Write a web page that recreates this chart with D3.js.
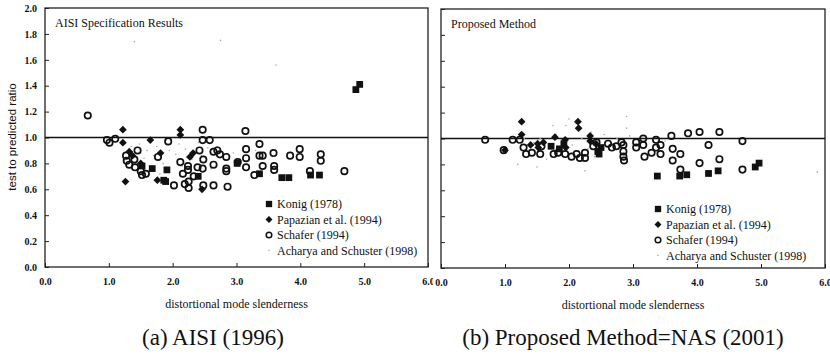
<!DOCTYPE html>
<html>
<head>
<meta charset="utf-8">
<script src="https://cdn.jsdelivr.net/npm/d3@7"></script>
<style>
  body { margin: 0; background: #fff; }
  svg { display: block; }
</style>
</head>
<body>
<svg id="chart" width="830" height="356"></svg>
<script>
// tick values / labels
const xTickValues = [0, 1, 2, 3, 4, 5, 6];
const yTickValues = [0, 0.2, 0.4, 0.6, 0.8, 1.0, 1.2, 1.4, 1.6, 1.8, 2.0];
const seriesNames = ["Konig (1978)", "Papazian et al. (1994)", "Schafer (1994)", "Acharya and Schuster (1998)"];

// (a) AISI (1996) -- [slenderness, test/predicted]
const aisiKonig = [[1.52,0.78],[1.68,0.76],[1.91,0.75],[1.89,0.66],[1.86,0.67],[2.40,0.70],[3.01,0.80],
  [3.36,0.72],[3.71,0.69],[3.82,0.69],[4.16,0.71],[4.30,0.71],[4.87,1.37],[4.93,1.41]];
const aisiPapazian = [[1.22,1.06],[1.22,0.96],[1.26,0.66],[1.32,0.89],[1.37,0.86],[1.50,0.80],[1.65,0.98],
  [1.81,0.88],[1.76,0.67],[2.12,1.06],[2.12,1.02],[2.27,0.85],[2.32,0.88],[2.46,0.60]];
const aisiSchafer = [[0.67,1.17],[0.97,0.98],[1.01,0.96],[1.10,0.99],[1.27,0.86],[1.28,0.82],[1.32,0.79],
  [1.40,0.83],[1.41,0.77],[1.45,0.90],[1.50,0.74],[1.52,0.71],[1.58,0.72],[1.77,0.85],[1.93,0.97],
  [2.02,0.63],[2.12,0.81],[2.16,0.72],[2.19,0.64],[2.24,0.78],[2.24,0.75],[2.25,0.66],[2.25,0.61],
  [2.33,0.70],[2.39,0.77],[2.42,0.90],[2.47,1.06],[2.47,0.98],[2.48,0.83],[2.47,0.76],[2.48,0.63],
  [2.58,0.98],[2.64,0.89],[2.64,0.79],[2.64,0.63],[2.70,0.90],[2.74,0.87],[2.84,0.85],[2.84,0.76],
  [2.84,0.74],[2.86,0.62],[3.02,0.81],[3.14,1.05],[3.15,0.91],[3.15,0.84],[3.15,0.77],[3.28,0.71],
  [3.36,0.95],[3.36,0.86],[3.41,0.86],[3.41,0.78],[3.58,0.88],[3.59,0.78],[3.59,0.75],[3.84,0.86],
  [3.99,0.91],[3.99,0.85],[4.15,0.74],[4.32,0.87],[4.32,0.82],[4.69,0.74]];
const aisiAcharya = [[1.35,0.93],[1.42,0.88],[1.48,0.95],[1.55,0.84],[1.60,0.90],[1.70,0.86],[1.75,0.93],
  [1.85,0.80],[1.95,0.90],[2.05,0.87],[2.10,0.95],[2.20,0.91],[2.30,0.83],[2.45,0.86],[2.55,0.92],
  [2.70,0.93],[2.85,0.87],[2.95,0.88],[1.65,0.75],[1.80,0.72],[2.15,0.78],[1.40,1.74],[2.75,1.75],
  [3.62,1.56],[3.30,0.90],[1.25,0.82],[1.50,0.88],[2.40,0.96],[1.90,0.98],[2.60,0.76]];

// (b) Proposed Method = NAS (2001)
const nasKonig = [[1.72,0.94],[1.85,0.92],[1.92,0.96],[2.45,0.90],[2.47,0.88],[2.50,0.93],[3.38,0.71],
  [3.73,0.71],[3.84,0.72],[4.18,0.73],[4.33,0.75],[4.91,0.78],[4.97,0.81]];
const nasPapazian = [[1.26,1.13],[1.26,1.03],[2.14,1.13],[2.15,1.08],[2.33,1.02],[2.33,0.98],[1.51,0.96],
  [1.78,1.01],[1.94,0.99],[1.00,0.91],[1.52,0.93],[1.40,0.95],[1.60,0.97],[1.95,0.93],[2.42,0.96]];
const nasSchafer = [[0.69,0.99],[0.98,0.91],[1.12,0.99],[1.23,0.99],[1.29,0.93],[1.33,0.88],[1.42,0.89],
  [1.55,0.88],[1.57,0.94],[1.76,0.88],[1.83,0.89],[1.94,0.88],[2.04,0.86],[2.12,0.88],[2.17,0.85],
  [2.25,0.85],[2.25,0.89],[2.38,0.94],[2.43,0.97],[2.61,0.96],[2.67,0.93],[2.74,0.94],[2.82,0.97],
  [2.85,0.95],[2.85,0.90],[2.85,0.86],[2.86,0.83],[3.05,0.97],[3.05,0.93],[3.16,1.00],[3.16,0.95],
  [3.18,0.86],[3.29,0.89],[3.36,0.99],[3.36,0.93],[3.43,0.95],[3.43,0.88],[3.60,1.02],[3.62,0.92],
  [3.62,0.83],[3.74,0.88],[3.74,0.76],[3.86,1.04],[4.04,1.05],[4.04,0.81],[4.18,0.95],[4.35,1.05],
  [4.35,0.84],[4.71,0.76],[4.71,0.98]];
const nasAcharya = [[1.30,1.00],[1.35,0.90],[1.45,0.97],[1.55,1.00],[1.60,0.92],[1.70,0.96],[1.80,1.03],
  [1.85,0.90],[1.95,1.10],[2.00,1.15],[2.05,0.95],[2.10,1.12],[2.20,1.00],[2.30,0.92],[2.35,1.05],
  [2.45,0.98],[2.60,0.94],[2.75,1.00],[2.90,1.17],[2.90,1.08],[2.95,1.02],[1.20,0.80],[2.25,0.75],
  [1.65,0.84],[2.40,0.86],[1.75,1.10],[3.50,0.98],[5.88,0.74],[1.50,0.78],[2.55,1.03]];

const svg = d3.select("#chart");
const serif = "'Liberation Serif', 'Times New Roman', serif";

// clip so that the neighbouring panels cut each other's edge labels like the scan
const defs = svg.append("defs");
defs.append("clipPath").attr("id", "clipA").append("rect").attr("x", 0).attr("y", 0).attr("width", 433).attr("height", 356);
defs.append("clipPath").attr("id", "clipB").append("rect").attr("x", 435).attr("y", 0).attr("width", 395).attr("height", 356);

// diamond = square turned 45 degrees
const diamondPath = s => d3.symbol(d3.symbolSquare, s)();

function drawPanel(p) {
  const g = svg.append("g").attr("clip-path", `url(#${p.clip})`);
  const x = d3.scaleLinear().domain([0, 6]).range([p.left, p.right]);
  const y = d3.scaleLinear().domain([0, 2]).range([p.bottom, p.top]);

  // axes (ticks pointing inward)
  const ax = g.append("g").attr("transform", `translate(0,${p.bottom})`)
    .call(d3.axisBottom(x).tickValues(xTickValues).tickSizeInner(-4).tickSizeOuter(0)
      .tickPadding(11).tickFormat(d3.format(".1f")));
  const ay = g.append("g").attr("transform", `translate(${p.left},0)`)
    .call(d3.axisLeft(y).tickValues(yTickValues).tickSizeInner(-4).tickSizeOuter(0)
      .tickPadding(8).tickFormat(p.yLabels ? d3.format(".1f") : ""));
  [ax, ay].forEach(a => {
    a.select(".domain").remove();
    a.selectAll("line").attr("stroke", "#222").attr("stroke-width", 1);
    a.selectAll("text").attr("font-family", serif).attr("font-weight", "bold")
      .attr("font-size", 10).attr("fill", "#111");
  });

  // frame
  g.append("rect").attr("x", p.left).attr("y", p.top)
    .attr("width", p.right - p.left).attr("height", p.bottom - p.top)
    .attr("fill", "none").attr("stroke", "#222").attr("stroke-width", 1.3);

  // reference line at ratio 1.0
  g.append("line").attr("x1", p.left).attr("x2", p.right)
    .attr("y1", y(1)).attr("y2", y(1)).attr("stroke", "#111").attr("stroke-width", 1.4);

  // data
  const pts = g.append("g");
  pts.selectAll(".ach").data(p.acharya).join("circle").attr("class", "ach")
    .attr("cx", d => x(d[0])).attr("cy", d => y(d[1])).attr("r", 0.8).attr("fill", "#aaa");
  pts.selectAll(".sch").data(p.schafer).join("circle").attr("class", "sch")
    .attr("cx", d => x(d[0])).attr("cy", d => y(d[1])).attr("r", 3.2)
    .attr("fill", "none").attr("stroke", "#111").attr("stroke-width", 1.7);
  pts.selectAll(".pap").data(p.papazian).join("path").attr("class", "pap")
    .attr("transform", d => `translate(${x(d[0])},${y(d[1])}) rotate(45)`)
    .attr("d", diamondPath(30)).attr("fill", "#111");
  pts.selectAll(".kon").data(p.konig).join("path").attr("class", "kon")
    .attr("transform", d => `translate(${x(d[0])},${y(d[1])})`)
    .attr("d", d3.symbol(d3.symbolSquare, 46)).attr("fill", "#111");

  // panel title
  g.append("text").attr("x", p.left + 10).attr("y", p.top + 19).text(p.title)
    .attr("font-family", serif).attr("font-size", 12).attr("fill", "#111");

  // legend
  const lg = g.append("g").attr("transform", `translate(${p.legX},${p.legY})`);
  seriesNames.forEach((name, i) => {
    const row = lg.append("g").attr("transform", `translate(0,${i * 15.5})`);
    if (i === 0) row.append("path").attr("d", d3.symbol(d3.symbolSquare, 40)).attr("fill", "#111");
    if (i === 1) row.append("path").attr("d", diamondPath(24)).attr("transform", "rotate(45)").attr("fill", "#111");
    if (i === 2) row.append("circle").attr("r", 2.8).attr("fill", "none").attr("stroke", "#111").attr("stroke-width", 1.5);
    if (i === 3) row.append("circle").attr("r", 0.8).attr("fill", "#aaa");
    row.append("text").attr("x", 8).attr("y", 4).text(name)
      .attr("font-family", serif).attr("font-size", 12).attr("fill", "#111");
  });

  // x axis title
  g.append("text").attr("x", (p.left + p.right) / 2).attr("y", p.bottom + 41)
    .attr("text-anchor", "middle").text("distortional mode slenderness")
    .attr("font-family", serif).attr("font-size", 12).attr("fill", "#111");
}

drawPanel({ clip: "clipA", left: 45, right: 428, top: 8, bottom: 267, yLabels: true,
  title: "AISI Specification Results", legX: 269, legY: 204,
  konig: aisiKonig, papazian: aisiPapazian, schafer: aisiSchafer, acharya: aisiAcharya });
drawPanel({ clip: "clipB", left: 441, right: 825, top: 9, bottom: 268, yLabels: false,
  title: "Proposed Method", legX: 658, legY: 209,
  konig: nasKonig, papazian: nasPapazian, schafer: nasSchafer, acharya: nasAcharya });

// y axis title
svg.append("text").attr("transform", "translate(16,137) rotate(-90)")
  .attr("text-anchor", "middle").text("test to predicted ratio")
  .attr("font-family", "'Liberation Sans', Arial, sans-serif").attr("font-size", 11.5).attr("fill", "#111");

// captions
svg.append("text").attr("x", 213).attr("y", 345).attr("text-anchor", "middle")
  .text("(a) AISI (1996)").attr("font-family", serif).attr("font-size", 23).attr("fill", "#111");
svg.append("text").attr("x", 623).attr("y", 345).attr("text-anchor", "middle")
  .text("(b) Proposed Method=NAS (2001)").attr("font-family", serif).attr("font-size", 23).attr("fill", "#111");
</script>
</body>
</html>
